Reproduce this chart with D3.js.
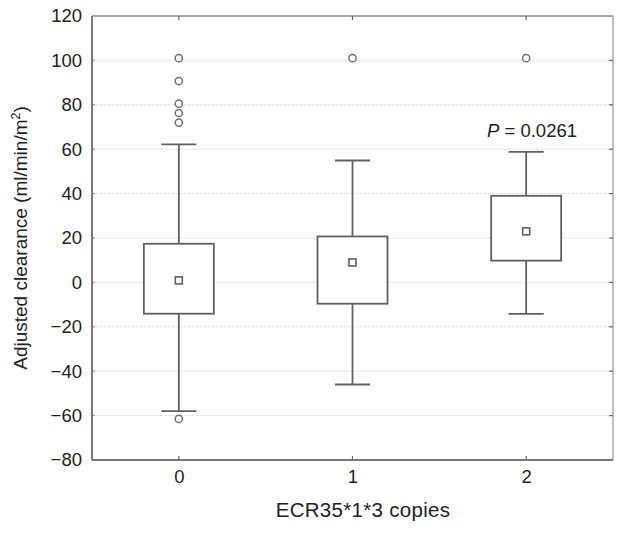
<!DOCTYPE html>
<html>
<head>
<meta charset="utf-8">
<script src="https://cdn.jsdelivr.net/npm/d3@7"></script>
<style>
body{margin:0;background:#fff;}
text{font-family:"Liberation Sans",Arial,Helvetica,sans-serif;fill:#222;}
</style>
</head>
<body>
<svg id="chart" width="624" height="533"></svg>
<script>
const categories = ["0","1","2"];
const whiskerLow  = [-58, -46, -14.2];
const boxLow      = [-14.1, -9.6, 9.8];
const means       = [0.9, 9, 23];
const boxHigh     = [17.4, 20.7, 39];
const whiskerHigh = [62.2, 54.9, 58.8];
const outliers    = [[101, 90.7, 80.5, 76.3, 72, -61.5], [101], [101]];
const yTicks      = [-80,-60,-40,-20,0,20,40,60,80,100,120];

const svg = d3.select("#chart");
const L = 92, R = 613, T = 16, B = 460;
const x = d3.scaleLinear().domain([-0.5, 2.5]).range([L, R]);
const y = d3.scaleLinear().domain([-80, 120]).range([B, T]);

// grid
svg.append("g").selectAll("line").data(yTicks.slice(1,-1)).join("line")
  .attr("x1", L).attr("x2", R).attr("y1", d=>y(d)).attr("y2", d=>y(d))
  .attr("stroke", "#e2e2e2").attr("stroke-width", 1).attr("stroke-dasharray","3,1");

// left axis labels
const yAxis = d3.axisLeft(y).tickValues(yTicks).tickSize(0).tickPadding(10)
  .tickFormat(d => d < 0 ? "\u2212" + Math.abs(d) : d);
const gy = svg.append("g").attr("transform", `translate(${L},0)`).call(yAxis);
gy.select(".domain").remove();
gy.selectAll("text").style("font-size","18.5px").attr("fill","#222");

// bottom axis labels
const xAxis = d3.axisBottom(x).tickValues([0,1,2]).tickSize(0).tickPadding(10)
  .tickFormat(i => categories[i]);
const gx = svg.append("g").attr("transform", `translate(0,${B})`).call(xAxis);
gx.select(".domain").remove();
gx.selectAll("text").style("font-size","18.5px").attr("fill","#222");

// frame
svg.append("line").attr("x1",L).attr("x2",R).attr("y1",T).attr("y2",T).attr("stroke","#888").attr("stroke-width",1.5);
svg.append("line").attr("x1",R).attr("x2",R).attr("y1",T).attr("y2",B).attr("stroke","#aaa").attr("stroke-width",1.5);
svg.append("line").attr("x1",L).attr("x2",L).attr("y1",T).attr("y2",B).attr("stroke","#777").attr("stroke-width",2);
svg.append("line").attr("x1",L).attr("x2",R).attr("y1",B).attr("y2",B).attr("stroke","#777").attr("stroke-width",2);

// small ticks top/bottom/right/left
svg.append("g").selectAll("line").data([0,1,2]).join("line")
  .attr("x1",d=>x(d)).attr("x2",d=>x(d)).attr("y1",T).attr("y2",T+4).attr("stroke","#666").attr("stroke-width",1.2);
svg.append("g").selectAll("line").data([0,1,2]).join("line")
  .attr("x1",d=>x(d)).attr("x2",d=>x(d)).attr("y1",B).attr("y2",B-4).attr("stroke","#666").attr("stroke-width",1.2);
svg.append("g").selectAll("line").data(yTicks.slice(1,-1)).join("line")
  .attr("x1",R).attr("x2",R-4).attr("y1",d=>y(d)).attr("y2",d=>y(d)).attr("stroke","#666").attr("stroke-width",1.2);
svg.append("g").selectAll("line").data(yTicks.slice(1,-1)).join("line")
  .attr("x1",L).attr("x2",L+3).attr("y1",d=>y(d)).attr("y2",d=>y(d)).attr("stroke","#888").attr("stroke-width",1);

const boxW = 70, capW = 35, stroke = "#606060";
const g = svg.append("g");
categories.forEach((c, i) => {
  const cx = x(i);
  g.append("line").attr("x1",cx).attr("x2",cx).attr("y1",y(whiskerHigh[i])).attr("y2",y(boxHigh[i])).attr("stroke",stroke).attr("stroke-width",1.8);
  g.append("line").attr("x1",cx).attr("x2",cx).attr("y1",y(boxLow[i])).attr("y2",y(whiskerLow[i])).attr("stroke",stroke).attr("stroke-width",1.8);
  g.append("line").attr("x1",cx-capW/2).attr("x2",cx+capW/2).attr("y1",y(whiskerHigh[i])).attr("y2",y(whiskerHigh[i])).attr("stroke",stroke).attr("stroke-width",1.8);
  g.append("line").attr("x1",cx-capW/2).attr("x2",cx+capW/2).attr("y1",y(whiskerLow[i])).attr("y2",y(whiskerLow[i])).attr("stroke",stroke).attr("stroke-width",1.8);
  g.append("rect").attr("x",cx-boxW/2).attr("width",boxW)
    .attr("y",y(boxHigh[i])).attr("height",y(boxLow[i])-y(boxHigh[i]))
    .attr("fill","#fff").attr("stroke",stroke).attr("stroke-width",1.8);
  g.append("rect").attr("x",cx-3.5).attr("y",y(means[i])-3.5).attr("width",7).attr("height",7)
    .attr("fill","#fff").attr("stroke",stroke).attr("stroke-width",1.6);
  g.selectAll(null).data(outliers[i]).join("circle")
    .attr("cx",cx).attr("cy",d=>y(d)).attr("r",3.6)
    .attr("fill","#fff").attr("stroke","#707070").attr("stroke-width",1.5);
});

// P annotation
const pt = svg.append("text").attr("x", 532).attr("y", 137).attr("text-anchor","middle").style("font-size","18.5px");
pt.append("tspan").style("font-style","italic").text("P");
pt.append("tspan").text(" = 0.0261");

// axis titles
svg.append("text").attr("x", 363).attr("y", 517).attr("text-anchor","middle").style("font-size","20.5px").style("letter-spacing","0.3px").text("ECR35*1*3 copies");
const yt = svg.append("text").attr("transform","translate(27,238) rotate(-90)").attr("text-anchor","middle").style("font-size","19px");
yt.append("tspan").text("Adjusted clearance (ml/min/m");
yt.append("tspan").attr("dy",-7).style("font-size","12.5px").text("2");
yt.append("tspan").attr("dy",7).text(")");
</script>
</body>
</html>
